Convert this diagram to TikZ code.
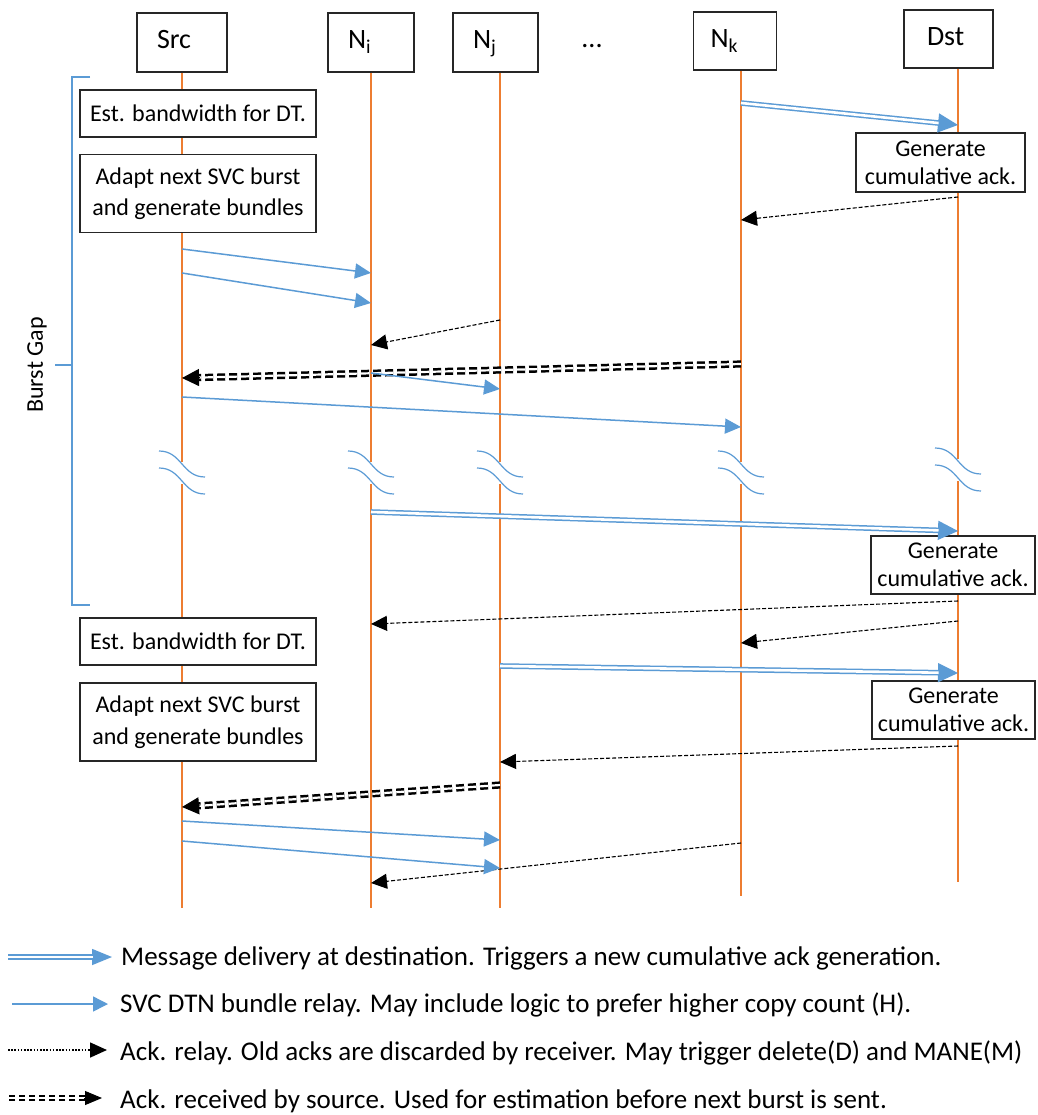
\documentclass[tikz,border=0pt]{standalone}
\usepackage{fontspec}
\setmainfont{Carlito}
\usetikzlibrary{arrows.meta,calc}
\definecolor{relayblue}{HTML}{5B9BD5}
\definecolor{lifeor}{HTML}{ED7D31}

\begin{document}
\begin{tikzpicture}[x=1pt,y=-1pt,
  font=\fontsize{24}{29}\selectfont,
  hdrbox/.style={draw=black!85, line width=1.2pt, fill=white, minimum height=59pt,
    inner ysep=0pt, inner xsep=20pt, align=left, text height=13pt, text depth=0pt,
    font=\fontsize{28}{32}\selectfont},
  notebox/.style={draw=black!85, line width=1.2pt, fill=white, inner sep=0pt, align=center},
  twoline/.style={font=\fontsize{24}{31.5}\selectfont},
  ackline/.style={font=\fontsize{24}{28}\selectfont},
  life/.style={draw=lifeor, line width=1.1pt},
  brk/.style={draw=relayblue, line width=1.2pt},
  relay/.style={draw=relayblue, line width=1.5pt, -{Triangle[length=16pt,width=15pt]}},
  ackrelay/.style={draw=black, line width=1.1pt, dash pattern=on 4pt off 2pt,
    -{Triangle[length=16pt,width=15pt]}},
  dashstrands/.style={draw=black, line width=2.5pt, double=white, double distance=2.2pt,
    dash pattern=on 8pt off 4pt},
  bluestrands/.style={draw=relayblue, line width=1.5pt, double=white, double distance=2.6pt},
  bigtip/.style={draw=relayblue, line width=1.5pt, -{Triangle[length=20pt,width=19pt]}},
  blacktip/.style={draw=black, line width=1pt, -{Triangle[length=17pt,width=17pt]}},
  legtext/.style={anchor=base west, inner sep=0pt, font=\fontsize{27}{30}\selectfont}
]
\fill[white] (0,0) rectangle (1037,1115);
\useasboundingbox (0,0) rectangle (1037,1115);

% lifeline positions
\coordinate (xs) at (182,0);
\coordinate (xi) at (371,0);
\coordinate (xj) at (500,0);
\coordinate (xk) at (741,0);
\coordinate (xd) at (958,0);

% header boxes
\node[hdrbox, text width=50pt] (src) at (182,42.5) {Src};
\node[hdrbox, text width=46pt] (ni) at (371,42.5) {N\textsubscript{i}};
\node[hdrbox, text width=45pt] (nj) at (495.5,42.5) {N\textsubscript{j}};
\node[anchor=base, font=\fontsize{28}{32}\selectfont] (dots) at (592,48) {...};
\node[hdrbox, text width=49pt, inner xsep=17pt, minimum height=58pt] (nk) at (735,41) {N\textsubscript{k}};
\node[hdrbox, text width=43pt, inner xsep=23pt, minimum height=58pt] (dst) at (948.5,39) {Dst};

% lifelines, interrupted by the break marks
\draw[life] (xs |- src.south) -- (xs |- 0,462);
\draw[life] (xs |- 0,484) -- (xs |- 0,908);
\draw[life] (xi |- ni.south) -- (xi |- 0,462);
\draw[life] (xi |- 0,484) -- (xi |- 0,908);
\draw[life] (xj |- nj.south) -- (xj |- 0,462);
\draw[life] (xj |- 0,484) -- (xj |- 0,908);
\draw[life] (xk |- nk.south) -- (xk |- 0,462);
\draw[life] (xk |- 0,484) -- (xk |- 0,896);
\draw[life] (xd |- dst.south) -- (xd |- 0,459);
\draw[life] (xd |- 0,481) -- (xd |- 0,882);

% break marks
\foreach \bx/\by in {182/451, 371/451, 500/451, 741/451, 958/448}{
  \draw[brk] (\bx-23,\by) .. controls (\bx,\by) and (\bx,\by+26) .. (\bx+23,\by+26);
  \draw[brk] (\bx-23,\by+17) .. controls (\bx,\by+17) and (\bx,\by+43) .. (\bx+23,\by+43);
}

% burst gap bracket
\draw[draw=relayblue, line width=1.2pt] (90,77) -- (72,77) -- (72,605) -- (90,605);
\draw[draw=relayblue, line width=1.2pt] (72,365) -- (55,365);
\node[rotate=90] (gap) at (37,365) {Burst Gap};

% notes on the lifelines
\node[notebox, minimum width=236pt, minimum height=47pt] (est1) at (198,113.5) {Est. bandwidth for DT.};
\node[notebox, twoline, minimum width=236pt, minimum height=78pt] (adapt1) at (198,193.5) {Adapt next SVC burst\\and generate bundles};
\node[notebox, ackline, minimum width=169pt, minimum height=59pt] (gen1) at (940.5,162.5) {Generate\\cumulative ack.};
\node[notebox, ackline, minimum width=164pt, minimum height=58pt] (gen2) at (953,565) {Generate\\cumulative ack.};
\node[notebox, minimum width=236pt, minimum height=47pt] (est2) at (198,641.5) {Est. bandwidth for DT.};
\node[notebox, ackline, minimum width=163pt, minimum height=58pt] (gen3) at (953.5,710) {Generate\\cumulative ack.};
\node[notebox, twoline, minimum width=236pt, minimum height=78pt] (adapt2) at (198,722) {Adapt next SVC burst\\and generate bundles};

% message end points
\coordinate (m1a) at (xk |- 0,103);  \coordinate (m1b) at (xd |- 0,125);
\coordinate (m6a) at (xk |- 0,364);  \coordinate (m6b) at (xs |- 0,378);
\coordinate (m9a) at (xi |- 0,512);  \coordinate (m9b) at (xd |- 0,531);
\coordinate (m12a) at (xj |- 0,666); \coordinate (m12b) at (xd |- 0,673);
\coordinate (m14a) at (xj |- 0,785); \coordinate (m14b) at (xs |- 0,807);

% deliveries at the destination (double blue)
\foreach \p in {m1,m9,m12}{
  \draw[bigtip] (\p a) -- (\p b);
  \draw[bluestrands, shorten >=19.5pt] (\p a) -- (\p b);
}

% ack relays
\draw[ackrelay] (xd |- 0,197) -- (xk |- 0,220);
\draw[ackrelay] (xj |- 0,320) -- (xi |- 0,345);
\draw[ackrelay] (xd |- 0,601) -- (xi |- 0,624);
\draw[ackrelay] (xd |- 0,621) -- (xk |- 0,643);
\draw[ackrelay] (xd |- 0,746) -- (xj |- 0,762);
\draw[ackrelay] (xk |- 0,843) -- (xi |- 0,883);

% acks received by the source (double dashed)
\foreach \p in {m6,m14}{
  \draw[dashstrands, shorten >=16pt] (\p a) -- (\p b);
  \draw[blacktip] ($(\p b)!18pt!(\p a)$) -- (\p b);
}

% bundle relays
\draw[relay] (xs |- 0,249) -- (xi |- 0,273);
\draw[relay] (xs |- 0,273) -- (xi |- 0,303);
\draw[relay] (xi |- 0,373) -- (xj |- 0,389);
\draw[relay] (xs |- 0,397) -- (xk |- 0,427);
\draw[relay] (xs |- 0,821) -- (xj |- 0,840);
\draw[relay] (xs |- 0,841) -- (xj |- 0,868);

% legend
\coordinate (k1a) at (8,957);   \coordinate (k1b) at (112,957);
\coordinate (k2a) at (12,1004); \coordinate (k2b) at (108,1004);
\coordinate (k3a) at (8,1050);  \coordinate (k3b) at (107,1050);
\coordinate (k4a) at (9,1098);  \coordinate (k4b) at (102,1098);
\draw[draw=relayblue, line width=1.5pt, -{Triangle[length=20pt,width=16pt]}] (k1a) -- (k1b);
\draw[bluestrands, shorten >=19.5pt] (k1a) -- (k1b);
\draw[draw=relayblue, line width=1.5pt, -{Triangle[length=15pt,width=15pt]}] (k2a) -- (k2b);
\draw[draw=black, line width=1.6pt, dash pattern=on 1.6pt off 1.6pt,
  -{Triangle[length=17pt,width=15pt]}] (k3a) -- (k3b);
\draw[draw=black, line width=1.8pt, double=white, double distance=2.2pt,
  dash pattern=on 6pt off 4pt, shorten >=16pt] (k4a) -- (k4b);
\draw[blacktip, -{Triangle[length=17pt,width=14pt]}] ($(k4b)!18pt!(k4a)$) -- (k4b);

\node[legtext] (k1t) at (121,965) {Message delivery at destination. Triggers a new cumulative ack generation.};
\node[legtext] (k2t) at (120,1012) {SVC DTN bundle relay. May include logic to prefer higher copy count (H).};
\node[legtext] (k3t) at (120,1060) {Ack. relay. Old acks are discarded by receiver. May trigger delete(D) and MANE(M)};
\node[legtext] (k4t) at (120,1108) {Ack. received by source. Used for estimation before next burst is sent.};
\end{tikzpicture}
\end{document}
